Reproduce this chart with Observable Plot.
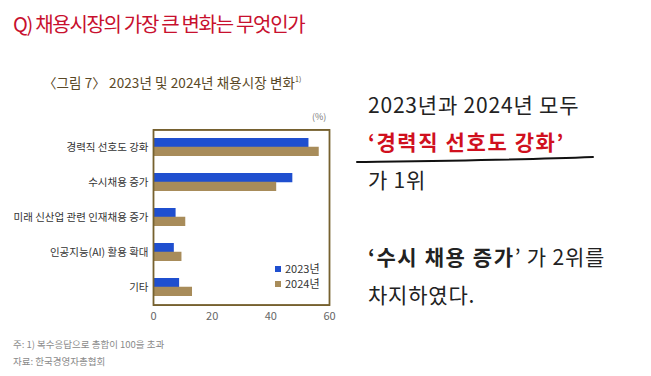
<!DOCTYPE html>
<html>
<head>
<meta charset="utf-8">
<script src="https://cdn.jsdelivr.net/npm/d3@7"></script>
<script src="https://cdn.jsdelivr.net/npm/@observablehq/plot@0.6"></script>
<style>
  html, body { margin: 0; padding: 0; background: #fff; }
  body { width: 651px; height: 376px; overflow: hidden; position: relative; font-family: "Noto Sans CJK KR", "Noto Sans", sans-serif; }
  .abs { position: absolute; white-space: nowrap; line-height: 1; }
  #title { left: 13px; top: 14px; font-size: 20px; color: #c8102e; letter-spacing: -1.3px; }
  #ctitle { left: 43px; top: 76px; font-size: 13.5px; color: #5a4826; letter-spacing: 0.1px; }
  #ctitle sup { font-size: 7px; vertical-align: 6px; }
  #unit { left: 312px; top: 112px; font-size: 9px; color: #777; }
  #chart { left: 0; top: 100px; width: 340px; height: 230px; }
  #chart svg { display: block; }
  #box { left: 152.6px; top: 129.1px; width: 177.8px; height: 176.8px; box-sizing: border-box; border: 1.8px solid #76612f; pointer-events: none; }
  .leg { font-size: 11px; color: #333; display: flex; align-items: center; }
  .sw { width: 6px; height: 6px; display: inline-block; margin-right: 4px; }
  .note { left: 13px; font-size: 9.5px; color: #8a8a8a; }
  .rt { left: 368px; font-size: 21px; color: #222; letter-spacing: 0.8px; }
  .red { color: #d0101e; font-weight: bold; letter-spacing: 1.6px; }
</style>
</head>
<body>
<div id="title" class="abs">Q) 채용시장의 가장 큰 변화는 무엇인가</div>
<div id="ctitle" class="abs">〈그림 7〉 2023년 및 2024년 채용시장 변화<sup>1)</sup></div>
<div id="unit" class="abs">(%)</div>
<div class="abs note" style="top:340px">주: 1) 복수응답으로 총합이 100을 초과</div>
<div class="abs note" style="top:357px">자료: 한국경영자총협회</div>

<div class="abs rt" style="top:94px">2023년과 2024년 모두</div>
<div class="abs rt red" style="top:131px">‘경력직 선호도 강화’</div>
<svg class="abs" style="left:350px;top:150px" width="260" height="20">
  <path d="M7,12 C80,11 170,10 243,7" stroke="#111" stroke-width="2" fill="none" stroke-linecap="round"/>
</svg>
<div class="abs rt" style="top:169px">가 1위</div>
<div class="abs rt" style="top:246px"><b style="letter-spacing:1.6px">‘수시 채용 증가</b>’ 가 2위를</div>
<div class="abs rt" style="top:284px">차지하였다.</div>
<div id="chart" class="abs"></div>
<div id="box" class="abs"></div>
<div id="leg" class="abs"></div>

<script>
const categories = ["경력직 선호도 강화", "수시채용 증가", "미래 신산업 관련 인재채용 증가", "인공지능(AI) 활용 확대", "기타"];
const years = ["2023년", "2024년"];
const values2023 = [53, 47.5, 7.7, 7.1, 8.9];
const values2024 = [56.5, 42, 11, 9.7, 13.3];
const xTicks = [0, 20, 40, 60];
const xDomain = [0, 60];
const colors = ["#1f4fcf", "#a88c5a"];

const data = categories.flatMap((c, i) => [
  {category: c, year: years[0], value: values2023[i]},
  {category: c, year: years[1], value: values2024[i]}
]);

const half = 175 / categories.length * 0.25;

const chart = Plot.plot({
  width: 340,
  height: 230,
  marginLeft: 153,
  marginRight: 11,
  marginTop: 29.5,
  marginBottom: 25.5,
  style: {fontFamily: "'Noto Sans CJK KR', sans-serif", background: "transparent"},
  x: {domain: xDomain, ticks: xTicks, tickSize: 0, tickPadding: 7, label: null},
  y: {domain: categories, paddingInner: 0.5, paddingOuter: 0.25, tickSize: 0, tickPadding: 5, label: null},
  color: {domain: years, range: colors},
  marks: [
    Plot.barX(data.filter(d => d.year === years[0]), {x: "value", y: "category", fill: "year", insetBottom: half}),
    Plot.barX(data.filter(d => d.year === years[1]), {x: "value", y: "category", fill: "year", insetTop: half}),
    Plot.frame({stroke: "#76612f", strokeWidth: 1.8})
  ]
});
document.getElementById("chart").appendChild(chart);
chart.querySelectorAll("[aria-label='x-axis tick label'] text").forEach(t => { t.setAttribute("fill", "#666"); t.setAttribute("font-size", "11"); });
chart.querySelectorAll("[aria-label='y-axis tick label'] text").forEach(t => { t.setAttribute("fill", "#333"); t.setAttribute("font-size", "10.5"); });

const leg = document.getElementById("leg");
leg.style.left = "275px";
leg.style.top = "263px";
years.forEach((y, i) => {
  const row = document.createElement("div");
  row.className = "leg";
  row.style.marginBottom = "4px";
  row.innerHTML = `<span class="sw" style="background:${colors[i]}"></span>${y}`;
  leg.appendChild(row);
});
</script>
</body>
</html>
